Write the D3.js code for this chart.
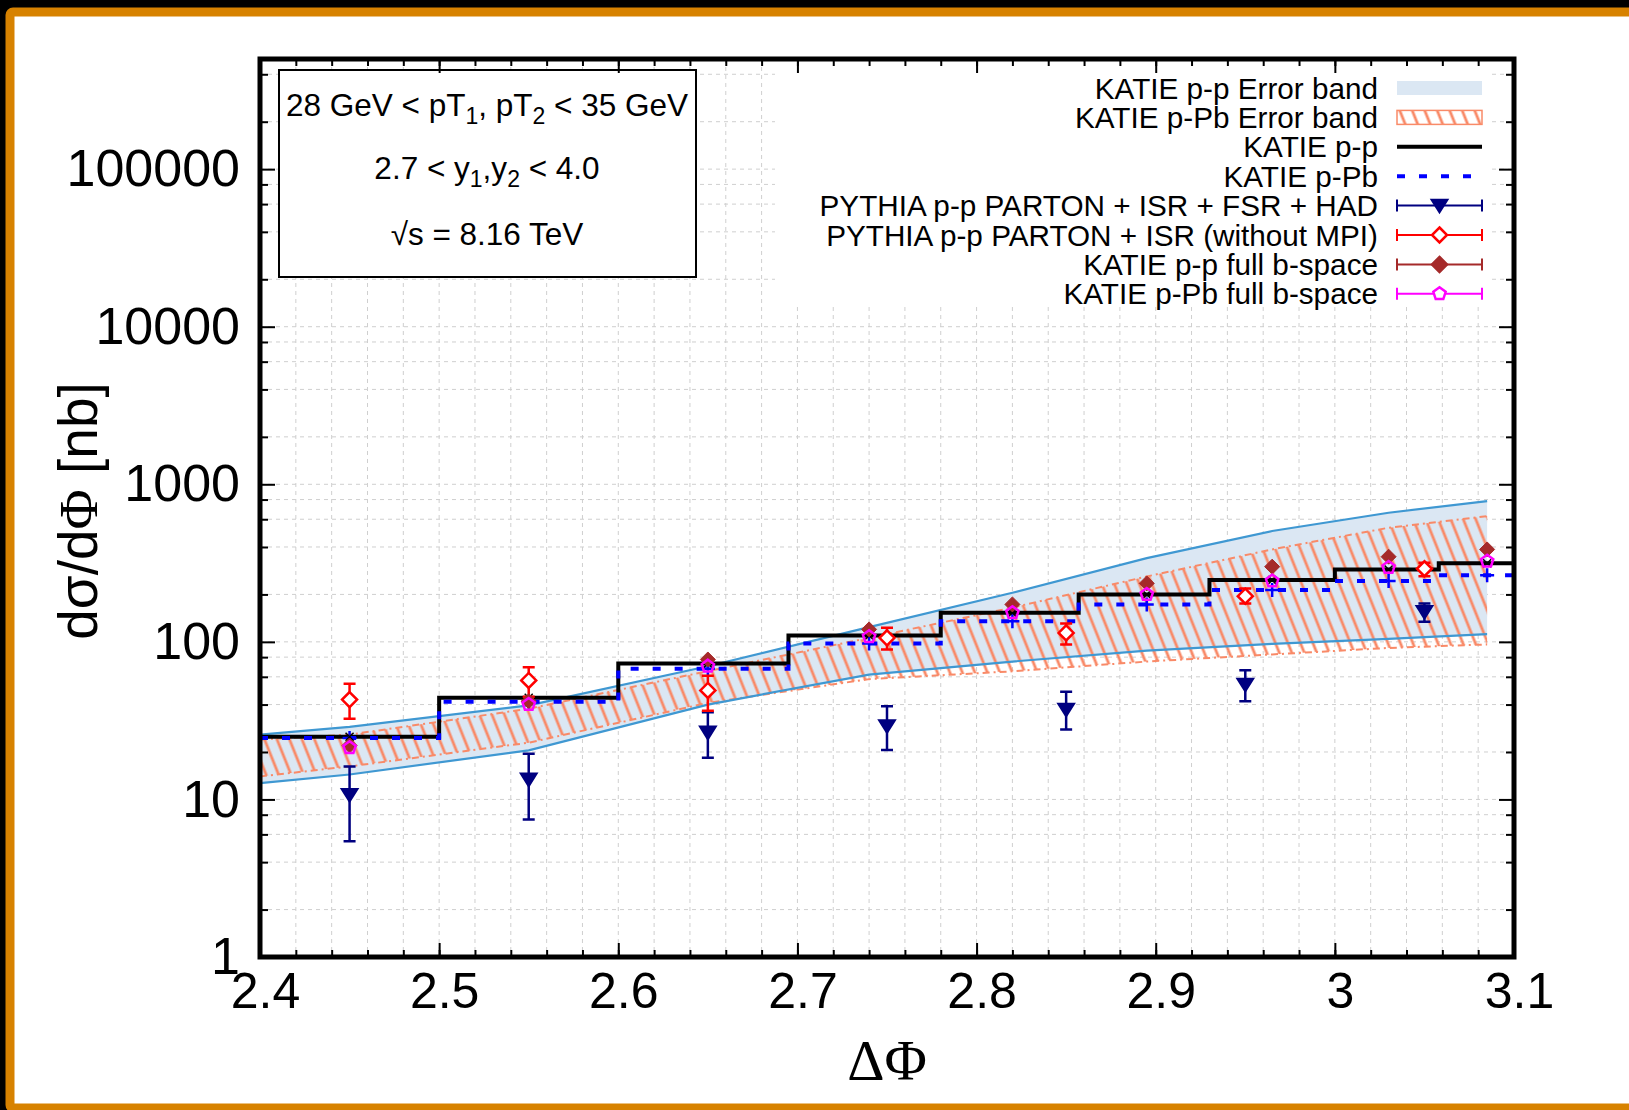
<!DOCTYPE html>
<html>
<head>
<meta charset="utf-8">
<script src="https://cdn.jsdelivr.net/npm/d3@7.9.0/dist/d3.min.js"></script>
<style>
  body { margin: 0; background: #000; }
  svg { display: block; }
  text { font-family: "Liberation Sans", Arial, sans-serif; fill: #000; }
</style>
</head>
<body>
<svg id="chart" width="1629" height="1110"></svg>
<script>
// ---- data ----
const xTickValues = [2.4, 2.5, 2.6, 2.7, 2.8, 2.9, 3.0, 3.1];
const xTickLabels = ['2.4', '2.5', '2.6', '2.7', '2.8', '2.9', '3', '3.1'];
const yTickValues = [1, 10, 100, 1000, 10000, 100000];
const yTickLabels = ['1', '10', '100', '1000', '10000', '100000'];

// KATIE step histograms (bin edges + contents)
const binEdges = [2.4, 2.5, 2.6, 2.695, 2.78, 2.857, 2.93, 3.0, 3.058, 3.1];
const katiePP  = [25.0, 44.2, 72.9, 109.8, 153, 200, 246.5, 288, 315];
const katiePPb = [24.5, 41.7, 67.5, 97.7, 135, 172.8, 213, 243, 265];

// error bands
const bandX     = [2.4, 2.45, 2.55, 2.65, 2.74, 2.82, 2.895, 2.965, 3.03, 3.085];
const ppBandLo  = [12.7, 14.4, 20.5, 40, 62, 75, 88, 97.2, 104.5, 112];
const ppBandHi  = [25.8, 28.9, 39.5, 70, 124, 205, 340, 505, 660, 782];
const pPbBandLo = [14, 16.2, 22.9, 41, 58, 65, 75, 83.2, 91.5, 96.3];
const pPbBandHi = [24, 25.8, 37.6, 65.2, 106, 165, 260, 386, 530, 628];

// PYTHIA points
const pyX        = [2.45, 2.55, 2.65, 2.75, 2.85, 2.95, 3.05];
const pyFull     = [10.7, 13.4, 26.6, 29.2, 37.2, 53.6, 155];
const pyFullLo   = [5.43, 7.45, 18.4, 20.6, 27.8, 42, 134];
const pyFullHi   = [16.2, 19.5, 35.8, 39, 48.2, 66.1, 175];
const pyNoMPI    = [43, 56.9, 49.2, 106, 114, 195, 291];
const pyNoMPILo  = [32.5, 44.8, 36.6, 89.5, 96.3, 175, 261];
const pyNoMPIHi  = [54.2, 69, 61, 123, 131, 218, 318];

// KATIE full b-space points
const bX       = [2.45, 2.55, 2.65, 2.74, 2.82, 2.895, 2.965, 3.03, 3.085];
const ppFullB  = [22, 42, 77.3, 120, 172.8, 235, 300, 347, 386];
const pPbFullB = [21.3, 40, 70.1, 107.8, 153, 200, 243, 296, 325];

const legendLabels = [
  'KATIE p-p Error band',
  'KATIE p-Pb Error band',
  'KATIE p-p',
  'KATIE p-Pb',
  'PYTHIA p-p PARTON + ISR + FSR + HAD',
  'PYTHIA p-p PARTON + ISR (without MPI)',
  'KATIE p-p full b-space',
  'KATIE p-Pb full b-space'
];

// ---- colours ----
const C = {
  bandFill: '#dbe7f3', bandLine: '#3f98d2', hatch: '#f98a68',
  navy: '#000080', red: '#ff0000', brown: '#a52a2a', magenta: '#ff00ff',
  blue: '#0000ff'
};

const svg = d3.select('#chart');
const L = 260, R = 1514, T = 59, B = 957;

const x = d3.scaleLinear().domain([2.4, 3.1]).range([L, R]);
const y = d3.scaleLog().domain([1, 5e5]).range([B, T]);

// page frame
svg.append('rect').attr('width', 1629).attr('height', 1110).attr('fill', '#000');
svg.append('rect').attr('x', 10).attr('y', 12).attr('width', 1650).attr('height', 1096)
  .attr('fill', '#fff').attr('stroke', '#d78200').attr('stroke-width', 9).attr('rx', 3);

const defs = svg.append('defs');
defs.append('clipPath').attr('id', 'plotclip')
  .append('rect').attr('x', L).attr('y', T).attr('width', R - L).attr('height', B - T);
const pat = defs.append('pattern').attr('id', 'hatch')
  .attr('patternUnits', 'userSpaceOnUse').attr('width', 11.6).attr('height', 10)
  .attr('patternTransform', 'rotate(-21.8)');
pat.append('line').attr('x1', 5.8).attr('x2', 5.8).attr('y1', 0).attr('y2', 10)
  .attr('stroke', C.hatch).attr('stroke-width', 2.8);

// tick value lists
const minorX = d3.range(0, 36).map(i => +(2.4 + i * 0.02).toFixed(2));
const minorY = [];
for (let e = 0; e <= 5; e++) [2, 4, 6, 8].forEach(m => { if (m * 10 ** e <= 5e5) minorY.push(m * 10 ** e); });

// grid
const grid = svg.append('g').attr('stroke', '#cfcfcf').attr('stroke-width', 1).attr('stroke-dasharray', '4,4');
grid.selectAll('line.gx').data(minorX).join('line')
  .attr('x1', d => x(d)).attr('x2', d => x(d)).attr('y1', T).attr('y2', B);
grid.selectAll('line.gy').data(yTickValues.concat(minorY)).join('line')
  .attr('x1', L).attr('x2', R).attr('y1', d => y(d)).attr('y2', d => y(d));

// info box and opaque key box
svg.append('rect').attr('x', 279).attr('y', 70).attr('width', 417).attr('height', 207)
  .attr('fill', '#fff').attr('stroke', '#000').attr('stroke-width', 2);
svg.append('rect').attr('x', 775).attr('y', 62).attr('width', 717).attr('height', 244).attr('fill', '#fff');

const info = svg.append('g').attr('text-anchor', 'middle').style('font-size', '31.5px');
const t1 = info.append('text').attr('x', 487).attr('y', 116);
t1.append('tspan').text('28 GeV < pT');
t1.append('tspan').attr('dy', 8).style('font-size', '23px').text('1');
t1.append('tspan').attr('dy', -8).text(', pT');
t1.append('tspan').attr('dy', 8).style('font-size', '23px').text('2');
t1.append('tspan').attr('dy', -8).text(' < 35 GeV');
const t2 = info.append('text').attr('x', 487).attr('y', 179);
t2.append('tspan').text('2.7 < y');
t2.append('tspan').attr('dy', 8).style('font-size', '23px').text('1');
t2.append('tspan').attr('dy', -8).text(',y');
t2.append('tspan').attr('dy', 8).style('font-size', '23px').text('2');
t2.append('tspan').attr('dy', -8).text(' < 4.0');
info.append('text').attr('x', 487).attr('y', 245).text('\u221As = 8.16 TeV');

// plot content
const plot = svg.append('g').attr('clip-path', 'url(#plotclip)');

const areaPP = d3.area().x((d, i) => x(bandX[i])).y0((d, i) => y(ppBandLo[i])).y1((d, i) => y(ppBandHi[i]));
const areaPPb = d3.area().x((d, i) => x(bandX[i])).y0((d, i) => y(pPbBandLo[i])).y1((d, i) => y(pPbBandHi[i]));
const lineOf = arr => d3.line().x((d, i) => x(bandX[i])).y((d, i) => y(arr[i]))(bandX);

plot.append('path').attr('d', areaPP(bandX)).attr('fill', C.bandFill);
plot.append('path').attr('d', areaPPb(bandX)).attr('fill', 'url(#hatch)');
[pPbBandLo, pPbBandHi].forEach(arr => plot.append('path').attr('d', lineOf(arr))
  .attr('fill', 'none').attr('stroke', C.hatch).attr('stroke-width', 2).attr('stroke-dasharray', '7,4,2,4'));
[ppBandLo, ppBandHi].forEach(arr => plot.append('path').attr('d', lineOf(arr))
  .attr('fill', 'none').attr('stroke', C.bandLine).attr('stroke-width', 2.2));

const stepLine = vals => {
  const pts = binEdges.map((e, i) => [e, vals[Math.min(i, vals.length - 1)]]);
  return d3.line().curve(d3.curveStepAfter).x(d => x(d[0])).y(d => y(d[1]))(pts);
};
plot.append('path').attr('d', stepLine(katiePP)).attr('fill', 'none')
  .attr('stroke', '#000').attr('stroke-width', 4);
plot.append('path').attr('d', stepLine(katiePPb)).attr('fill', 'none')
  .attr('stroke', C.blue).attr('stroke-width', 4).attr('stroke-dasharray', '8,14');

// marker shapes
const diamond = r => `M0,${-r}L${r},0L0,${r}L${-r},0Z`;
const triDown = r => `M${-r},${-r * 0.75}L${r},${-r * 0.75}L0,${r * 0.85}Z`;
const pentagon = r => d3.range(5).map(k => {
  const a = (-90 + 72 * k) * Math.PI / 180;
  return (k ? 'L' : 'M') + (r * Math.cos(a)).toFixed(2) + ',' + (r * Math.sin(a)).toFixed(2);
}).join('') + 'Z';
const plus = r => `M${-r},0H${r}M0,${-r}V${r}`;
const cross = r => `M${-r},${-r}L${r},${r}M${-r},${r}L${r},${-r}`;

// small point markers of the step histograms
plot.selectAll('path.bp').data(bX).join('path')
  .attr('transform', (d, i) => `translate(${x(d)},${y(katiePPb[i])})`)
  .attr('d', plus(7)).attr('stroke', C.blue).attr('stroke-width', 2.5).attr('fill', 'none');
plot.selectAll('path.kp').data(bX).join('path')
  .attr('transform', (d, i) => `translate(${x(d)},${y(katiePP[i])})`)
  .attr('d', cross(4)).attr('stroke', '#000').attr('stroke-width', 1.5).attr('fill', 'none');

function errorSeries(xs, vals, lo, hi, color, shape, filled) {
  const g = plot.append('g');
  xs.forEach((xv, i) => {
    const cx = x(xv);
    g.append('path')
      .attr('d', `M${cx},${y(lo[i])}V${y(hi[i])}M${cx - 6},${y(lo[i])}H${cx + 6}M${cx - 6},${y(hi[i])}H${cx + 6}`)
      .attr('stroke', color).attr('stroke-width', 2.5).attr('fill', 'none');
    g.append('path').attr('transform', `translate(${cx},${y(vals[i])})`).attr('d', shape)
      .attr('fill', filled ? color : '#fff').attr('stroke', color).attr('stroke-width', 2.5);
  });
}
errorSeries(pyX, pyFull, pyFullLo, pyFullHi, C.navy, triDown(7.5), true);
errorSeries(pyX, pyNoMPI, pyNoMPILo, pyNoMPIHi, C.red, diamond(7.5), false);

plot.selectAll('path.ppb').data(bX).join('path')
  .attr('transform', (d, i) => `translate(${x(d)},${y(ppFullB[i])})`)
  .attr('d', diamond(7.5)).attr('fill', C.brown).attr('stroke', C.brown).attr('stroke-width', 1);
plot.selectAll('path.pbb').data(bX).join('path')
  .attr('transform', (d, i) => `translate(${x(d)},${y(pPbFullB[i])})`)
  .attr('d', pentagon(6.5)).attr('fill', 'none').attr('stroke', C.magenta).attr('stroke-width', 2.5);

// legend
const key = svg.append('g');
const rowY = i => 88 + i * 29.4;
const sx0 = 1397, sx1 = 1482, sxm = (sx0 + sx1) / 2;
key.selectAll('text').data(legendLabels).join('text')
  .attr('x', 1378).attr('y', (d, i) => rowY(i)).attr('dy', '0.36em')
  .attr('text-anchor', 'end').style('font-size', '29.7px').text(d => d);
key.append('rect').attr('x', sx0).attr('y', rowY(0) - 7).attr('width', sx1 - sx0).attr('height', 14).attr('fill', C.bandFill);
key.append('rect').attr('x', sx0).attr('y', rowY(1) - 7).attr('width', sx1 - sx0).attr('height', 14)
  .attr('fill', 'url(#hatch)').attr('stroke', C.hatch).attr('stroke-width', 1.5);
key.append('path').attr('d', `M${sx0},${rowY(2)}H${sx1}`).attr('stroke', '#000').attr('stroke-width', 4);
key.append('path').attr('d', `M${sx0},${rowY(3)}H${sx1}`).attr('stroke', C.blue).attr('stroke-width', 4).attr('stroke-dasharray', '8,14');
[[C.navy, triDown(7.5), true], [C.red, diamond(7.5), false], [C.brown, diamond(7.5), true], [C.magenta, pentagon(6.5), false]]
  .forEach(([col, shp, filled], k) => {
    const yy = rowY(4 + k);
    key.append('path').attr('d', `M${sx0},${yy}H${sx1}M${sx0},${yy - 6}V${yy + 6}M${sx1},${yy - 6}V${yy + 6}`)
      .attr('stroke', col).attr('stroke-width', 2);
    key.append('path').attr('transform', `translate(${sxm},${yy})`).attr('d', shp)
      .attr('fill', filled ? col : '#fff').attr('stroke', col).attr('stroke-width', 2.5);
  });

// axes with inward ticks on all four sides
function styleAxis(g) {
  g.select('.domain').remove();
  g.selectAll('.tick line').attr('stroke', '#000').attr('stroke-width', 2);
}
svg.append('g').attr('transform', `translate(0,${B})`)
  .call(d3.axisBottom(x).tickValues(minorX).tickSize(-7).tickFormat('')).call(styleAxis);
svg.append('g').attr('transform', `translate(0,${T})`)
  .call(d3.axisTop(x).tickValues(minorX).tickSize(-7).tickFormat('')).call(styleAxis);
svg.append('g').attr('transform', `translate(0,${T})`)
  .call(d3.axisTop(x).tickValues(xTickValues).tickSize(-14).tickFormat('')).call(styleAxis);
const xAx = svg.append('g').attr('transform', `translate(0,${B})`)
  .call(d3.axisBottom(x).tickValues(xTickValues).tickSize(-14).tickPadding(15)
    .tickFormat((d, i) => xTickLabels[i])).call(styleAxis);
xAx.selectAll('text').attr('dx', 5).style('font-size', '50px')
  .style('font-family', '"Liberation Sans", Arial, sans-serif').attr('fill', '#000');

svg.append('g').attr('transform', `translate(${L},0)`)
  .call(d3.axisLeft(y).tickValues(minorY).tickSize(-8).tickFormat('')).call(styleAxis);
svg.append('g').attr('transform', `translate(${R},0)`)
  .call(d3.axisRight(y).tickValues(minorY).tickSize(-8).tickFormat('')).call(styleAxis);
svg.append('g').attr('transform', `translate(${R},0)`)
  .call(d3.axisRight(y).tickValues(yTickValues).tickSize(-15).tickFormat('')).call(styleAxis);
const yAx = svg.append('g').attr('transform', `translate(${L},0)`)
  .call(d3.axisLeft(y).tickValues(yTickValues).tickSize(-15).tickPadding(20)
    .tickFormat((d, i) => yTickLabels[i])).call(styleAxis);
yAx.selectAll('text').style('font-size', '52px')
  .style('font-family', '"Liberation Sans", Arial, sans-serif').attr('fill', '#000');

// frame
svg.append('rect').attr('x', L).attr('y', T).attr('width', R - L).attr('height', B - T)
  .attr('fill', 'none').attr('stroke', '#000').attr('stroke-width', 5);

// axis titles
const yl = svg.append('text').attr('transform', 'translate(97,511) rotate(-90)')
  .attr('text-anchor', 'middle').style('font-size', '55px');
yl.append('tspan').text('d\u03C3/d');
yl.append('tspan').style('font-family', '"Liberation Serif", serif').text('\u03A6');
yl.append('tspan').text(' [nb]');
svg.append('text').attr('x', 887).attr('y', 1080).attr('text-anchor', 'middle')
  .style('font-family', '"Liberation Serif", serif').style('font-size', '58px').text('\u0394\u03A6');
</script>
</body>
</html>
